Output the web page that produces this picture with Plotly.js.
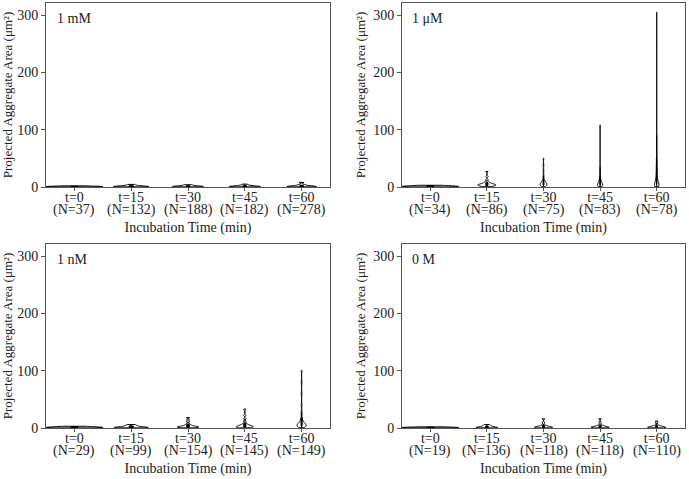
<!DOCTYPE html>
<html>
<head>
<meta charset="utf-8">
<script src="https://cdn.plot.ly/plotly-3.0.1.min.js"></script>
<style>html,body{margin:0;padding:0;background:#fff}#chart{width:689px;height:479px}</style>
</head>
<body>
<div id="chart"></div>
<script>
// Categories and tick labels
const times = ['t=0', 't=15', 't=30', 't=45', 't=60'];
const panelLabels = ['1 mM', '1 \u03bcM', '1 nM', '0 M'];
const counts_1mM = [37, 132, 188, 182, 278];
const counts_1uM = [34, 86, 75, 83, 78];
const counts_1nM = [29, 99, 154, 145, 149];
const counts_0M  = [19, 136, 118, 118, 110];

// Estimated representative sample values (µm²) per group
const s_1mM = [
  [0.2, 0.4, 0.5, 0.6, 0.8, 1.0, 1.2, 1.5, 2.0],
  [0.2, 0.3, 0.5, 0.7, 0.9, 1.2, 1.6, 2.2, 3.0, 4.5],
  [0.2, 0.3, 0.5, 0.7, 0.9, 1.1, 1.5, 2.0, 3.0, 4.0],
  [0.2, 0.3, 0.5, 0.7, 1.0, 1.3, 1.7, 2.3, 3.2, 5.0],
  [0.2, 0.3, 0.5, 0.8, 1.0, 1.4, 1.9, 2.6, 4.0, 8.0]
];
const s_1uM = [
  [0.2, 0.5, 0.8, 1.0, 1.3, 1.6, 2.0, 2.5, 3.0],
  [0.5, 1, 1.5, 2, 2.5, 3, 3, 3.5, 4, 4, 4.5, 5, 5.5, 6, 7, 8, 10, 13, 18, 27],
  [0.5, 1, 2, 2.5, 3, 3.5, 4, 4.5, 5, 5.5, 6, 6.5, 7, 8, 9, 10, 12, 15, 20, 28, 38, 50],
  [0.5, 1, 1.5, 2, 2.5, 3, 3.5, 4, 4.5, 5, 6, 7, 8, 9, 11, 14, 18, 25, 35, 50, 70, 108],
  [0.5, 1, 1.5, 2, 2.5, 3, 4, 5, 6, 7, 8, 10, 12, 15, 18, 22, 27, 33, 40, 50, 65, 90, 130, 190, 250, 305]
];
const s_1nM = [
  [0.2, 0.5, 0.8, 1.0, 1.3, 1.6, 2.0, 2.5, 3.0],
  [0.2, 0.4, 0.7, 1.0, 1.4, 1.8, 2.5, 3.5, 4.5, 6.0],
  [0.3, 0.6, 1, 1.2, 1.5, 1.8, 2, 2.3, 2.6, 3, 3.5, 4, 5, 6, 8, 11, 14, 18],
  [0.3, 0.6, 1, 1.3, 1.6, 2, 2.3, 2.6, 3, 3.5, 4, 4.5, 5, 6, 7, 9, 12, 16, 22, 33],
  [0.5, 1, 2, 2.5, 3, 3.5, 4, 4.5, 5, 5.5, 6, 6.5, 7, 8, 9, 10, 12, 15, 20, 28, 40, 60, 80, 100]
];
const s_0M = [
  [0.2, 0.4, 0.6, 0.8, 1.0, 1.2, 1.5, 2.0],
  [0.2, 0.4, 0.7, 1.0, 1.4, 1.9, 2.6, 3.5, 4.5, 6.0],
  [0.2, 0.5, 0.8, 1, 1.2, 1.5, 1.8, 2, 2.4, 2.8, 3.3, 4, 5, 7, 10, 16],
  [0.2, 0.5, 0.8, 1, 1.2, 1.5, 1.8, 2, 2.4, 2.8, 3.3, 4, 5, 7, 10, 16],
  [0.2, 0.5, 0.8, 1, 1.2, 1.5, 1.8, 2.2, 2.6, 3, 3.6, 4.5, 6, 9, 12]
];
// Relative violin widths (as drawn, area-scaled look)
const w_1mM = [1.0, 0.62, 0.55, 0.55, 0.52];
const w_1uM = [1.0, 0.32, 0.12, 0.09, 0.08];
const w_1nM = [1.0, 0.6, 0.38, 0.3, 0.16];
const w_0M  = [1.0, 0.38, 0.32, 0.32, 0.32];
// KDE bandwidths per group
const bw_1mM = [0.6, 0.8, 0.8, 0.8, 0.9];
const bw_1uM = [0.6, 1.2, 2.5, 3, 4];
const bw_1nM = [0.6, 0.8, 0.8, 1.2, 3];
const bw_0M  = [0.6, 0.8, 0.8, 0.8, 0.8];

const panels = [
  {s: s_1mM, w: w_1mM, bw: bw_1mM, n: counts_1mM, xa: 'x',  ya: 'y'},
  {s: s_1uM, w: w_1uM, bw: bw_1uM, n: counts_1uM, xa: 'x2', ya: 'y2'},
  {s: s_1nM, w: w_1nM, bw: bw_1nM, n: counts_1nM, xa: 'x3', ya: 'y3'},
  {s: s_0M,  w: w_0M,  bw: bw_0M,  n: counts_0M,  xa: 'x4', ya: 'y4'}
];

const traces = [];
panels.forEach(p => {
  times.forEach((t, i) => {
    traces.push({
      type: 'violin',
      x: p.s[i].map(() => t),
      y: p.s[i],
      xaxis: p.xa, yaxis: p.ya,
      width: p.w[i],
      scalemode: 'width',
      spanmode: 'hard',
      bandwidth: p.bw[i],
      points: false,
      fillcolor: 'white',
      line: {color: 'black', width: 1},
      box: {visible: true, width: 0.12, fillcolor: 'black', line: {color: 'black', width: 1}},
      meanline: {visible: false},
      showlegend: false,
      hoverinfo: 'skip'
    });
  });
});

const fam = '"Liberation Serif", "Times New Roman", serif';
const txt = {family: fam, size: 14, color: '#222'};
function xAxis(dom, anchor) {
  return {
    domain: dom, anchor: anchor, type: 'category',
    categoryorder: 'array', categoryarray: times,
    tickvals: times, ticktext: times,
    range: [-0.5, 4.5],
    showline: true, mirror: true, linecolor: '#555', linewidth: 1,
    ticks: 'outside', ticklen: 3, tickcolor: '#555',
    ticklabelstandoff: -6,
    showgrid: false, zeroline: false,
    tickfont: txt,
    title: {text: 'Incubation Time (min)', font: txt, standoff: 18}
  };
}
function yAxis(dom, anchor) {
  return {
    domain: dom, anchor: anchor, range: [0, 321],
    tickvals: [0, 100, 200, 300],
    showline: true, mirror: true, linecolor: '#555', linewidth: 1,
    ticks: 'outside', ticklen: 4, tickcolor: '#555',
    showgrid: false, zeroline: false,
    tickfont: txt,
    title: {text: 'Projected Aggregate Area (\u03bcm\u00b2)', font: {family: fam, size: 13, color: '#222'}, standoff: 4}
  };
}
const xL = [46/689, 330/689], xR = [402/689, 685/689];
const yT = [1 - 187/479, 1 - 3/479], yB = [1 - 428/479, 1 - 244/479];

const axNames = [['x', 'y'], ['x2', 'y2'], ['x3', 'y3'], ['x4', 'y4']];
const annotations = [];
panelLabels.forEach((lab, k) => {
  annotations.push({
    text: lab, showarrow: false,
    xref: axNames[k][0] + ' domain', yref: axNames[k][1] + ' domain',
    x: 0.03, y: 0.97, xanchor: 'left', yanchor: 'top', font: txt
  });
  times.forEach((t, i) => {
    annotations.push({
      text: '(N=' + panels[k].n[i] + ')', showarrow: false,
      xref: axNames[k][0], yref: axNames[k][1] + ' domain',
      x: t, y: -0.127, xanchor: 'center', yanchor: 'middle', font: txt
    });
  });
});

const layout = {
  width: 689, height: 479,
  margin: {l: 0, r: 0, t: 0, b: 0},
  paper_bgcolor: 'white', plot_bgcolor: 'white',
  font: txt,
  violinmode: 'overlay',
  xaxis:  xAxis(xL, 'y'),
  yaxis:  yAxis(yT, 'x'),
  xaxis2: xAxis(xR, 'y2'),
  yaxis2: yAxis(yT, 'x2'),
  xaxis3: xAxis(xL, 'y3'),
  yaxis3: yAxis(yB, 'x3'),
  xaxis4: xAxis(xR, 'y4'),
  yaxis4: yAxis(yB, 'x4'),
  annotations: annotations
};

Plotly.newPlot('chart', traces, layout, {displayModeBar: false, staticPlot: true});
</script>
</body>
</html>
